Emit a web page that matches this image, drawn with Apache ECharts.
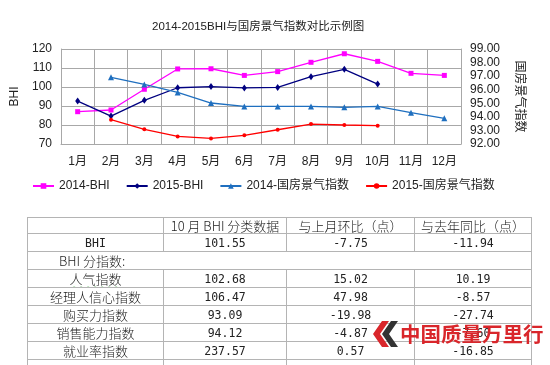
<!DOCTYPE html>
<html>
<head>
<meta charset="utf-8">
<script src="https://cdn.jsdelivr.net/npm/echarts@6/dist/echarts.min.js"></script>
<style>
  html, body { margin: 0; padding: 0; background: #fff; }
  #wrap { position: relative; width: 550px; height: 365px; overflow: hidden; }
  #chart { position: absolute; left: 0; top: 0; width: 550px; height: 365px; }
  #tbl { position: absolute; left: 27px; top: 217px; border-collapse: collapse; table-layout: fixed; }
  #tbl td { border: 1px solid #b4b4b4; padding: 0; text-align: center; color: #222;
            font-family: "Noto Sans CJK SC", sans-serif; font-size: 13px; font-weight: 300; line-height: 14px; overflow: hidden; white-space: nowrap; }
  #tbl td.num { font-family: "DejaVu Sans Mono", monospace; font-size: 11.5px; font-weight: normal; }
  #tbl td.sub { text-align: left; padding-left: 31px; }
  #tbl td.wavy { text-decoration: underline wavy #6bbf6b; text-underline-offset: 2px; }
  #wm { position: absolute; left: 372px; top: 319px; height: 30px; white-space: nowrap; }
  #wm span { position: absolute; left: 28px; top: 0px; font-family: "Noto Sans CJK SC", sans-serif; font-weight: bold;
             font-size: 20.5px; color: #d9262b; letter-spacing: 0px; line-height: 28px; }
</style>
</head>
<body>
<div id="wrap">
  <div id="chart"></div>
  <table id="tbl"></table>
  <div id="wm">
    <svg width="28" height="30" viewBox="0 0 28 30" style="position:absolute;left:0;top:0">
      <polygon points="10,2 17,2 8,15 17,28 10,28 1,15" fill="#d9262b"/>
      <polygon points="19,2 26,2 17,15 26,28 19,28 10,15" fill="#333"/>
    </svg>
    <span>中国质量万里行</span>
  </div>
</div>
<script>
// ---- chart data ----
var months = ['1月','2月','3月','4月','5月','6月','7月','8月','9月','10月','11月','12月'];
var bhi2014 = [87.0, 87.9, 98.8, 109.5, 109.6, 106.1, 108.1, 113.0, 117.5, 113.49, 107.2, 106.1];
var bhi2015 = [92.6, 84.7, 93.0, 99.6, 100.2, 99.5, 99.8, 105.4, 109.3, 101.55];
var gf2014 = [null, 96.91, 96.39, 95.80, 95.02, 94.77, 94.77, 94.77, 94.70, 94.77, 94.31, 93.89];
var gf2015 = [null, 93.79, 93.08, 92.56, 92.41, 92.64, 93.05, 93.47, 93.40, 93.35];
var seriesNames = ['2014-BHI', '2015-BHI', '2014-国房景气指数', '2015-国房景气指数'];
var leftTicks = [70, 120, 10];
var rightTicks = [92, 99, 1];

// ---- table data ----
var tableHeader = ['', '10 月 BHI 分类数据', '与上月环比（点）', '与去年同比（点）'];
var tableMainRow = ['BHI', '101.55', '-7.75', '-11.94'];
var tableSubTitle = 'BHI 分指数:';
var subNames = ['人气指数', '经理人信心指数', '购买力指数', '销售能力指数', '就业率指数'];
var subValues = ['102.68', '106.47', '93.09', '94.12', '237.57'];
var subMoM = ['15.02', '47.98', '-19.98', '-4.87', '0.57'];
var subYoY = ['10.19', '-8.57', '-27.74', '-7.60', '-16.85'];

// ---- build table ----
(function () {
  var colW = [136, 123, 128, 117];
  var t = document.getElementById('tbl');
  var html = '<colgroup>' + colW.map(function (w) { return '<col style="width:' + w + 'px">'; }).join('') + '</colgroup>';
  html += '<tr style="height:16px">' + tableHeader.map(function (h) { return '<td>' + h + '</td>'; }).join('') + '</tr>';
  html += '<tr style="height:18px">' + tableMainRow.map(function (v) {
    return '<td class="num">' + v + '</td>'; }).join('') + '</tr>';
  html += '<tr style="height:18px"><td colspan="4" class="sub">' + tableSubTitle + '</td></tr>';
  for (var i = 0; i < subNames.length; i++) {
    html += '<tr style="height:18px"><td' + (i === 0 ? ' class="wavy"' : '') + '>' + subNames[i] + '</td>' +
      '<td class="num">' + subValues[i] + '</td><td class="num">' + subMoM[i] + '</td><td class="num">' + subYoY[i] + '</td></tr>';
  }
  html += '<tr style="height:18px"><td></td><td></td><td></td><td></td></tr>';
  t.innerHTML = html;
})();

// ---- chart ----
var chart = echarts.init(document.getElementById('chart'), null, { renderer: 'canvas' });
var font = '"Liberation Sans", "Noto Sans CJK SC", sans-serif';
var gridColor = '#a8a8a8';
chart.setOption({
  animation: false,
  backgroundColor: 'transparent',
  textStyle: { fontFamily: font },
  title: {
    text: '2014-2015BHI与国房景气指数对比示例图',
    left: 152, top: 21, padding: 0,
    textStyle: { fontSize: 11.5, fontWeight: 'normal', color: '#222', fontFamily: font }
  },
  legend: {
    left: 32, top: 180, padding: 0,
    itemWidth: 21, itemHeight: 7, itemGap: 16,
    textStyle: { fontSize: 12, color: '#222', fontFamily: font },
    data: seriesNames
  },
  grid: { left: 61, right: 89, top: 49, bottom: 221 },
  xAxis: {
    type: 'category',
    data: months,
    boundaryGap: true,
    axisLine: { lineStyle: { color: gridColor } },
    axisTick: { show: false },
    axisLabel: { margin: 12, fontSize: 12, color: '#222' },
    splitLine: { show: true, lineStyle: { color: gridColor } }
  },
  yAxis: [{
    type: 'value',
    min: leftTicks[0], max: leftTicks[1], interval: leftTicks[2],
    name: 'BHI', nameLocation: 'middle', nameGap: 33,
    nameTextStyle: { fontSize: 12, color: '#222' },
    axisLine: { show: true, lineStyle: { color: gridColor } },
    axisTick: { show: false },
    axisLabel: { margin: 9, fontSize: 12, color: '#222' },
    splitLine: { show: true, lineStyle: { color: gridColor } }
  }, {
    type: 'value',
    position: 'right',
    min: rightTicks[0], max: rightTicks[1], interval: rightTicks[2],
    name: '国房景气指数', nameLocation: 'middle', nameRotate: -90, nameGap: 46,
    nameTextStyle: { fontSize: 12, color: '#222', fontFamily: '"Noto Sans CJK SC", sans-serif', padding: [0, 0, 8, 0] },
    axisLine: { show: true, lineStyle: { color: gridColor } },
    axisTick: { show: false },
    axisLabel: { margin: 9, fontSize: 12, color: '#222', formatter: function (v) { return v.toFixed(2); } },
    splitLine: { show: false }
  }],
  series: [{
    name: seriesNames[0], type: 'line', yAxisIndex: 0, data: bhi2014,
    symbol: 'rect', symbolSize: 5, color: '#ff00ff',
    lineStyle: { width: 1.3, color: '#ff00ff' }, itemStyle: { color: '#ff00ff' }
  }, {
    name: seriesNames[1], type: 'line', yAxisIndex: 0, data: bhi2015,
    symbol: 'diamond', symbolSize: [5, 7], color: '#000080',
    lineStyle: { width: 1.3, color: '#000080' }, itemStyle: { color: '#000080' }
  }, {
    name: seriesNames[2], type: 'line', yAxisIndex: 1, data: gf2014,
    symbol: 'triangle', symbolSize: 6, color: '#1f6fbf',
    lineStyle: { width: 1.3, color: '#1f6fbf' }, itemStyle: { color: '#1f6fbf' }
  }, {
    name: seriesNames[3], type: 'line', yAxisIndex: 1, data: gf2015,
    symbol: 'circle', symbolSize: 4, color: '#ff0000',
    lineStyle: { width: 1.3, color: '#ff0000' }, itemStyle: { color: '#ff0000' }
  }]
});
</script>
</body>
</html>
